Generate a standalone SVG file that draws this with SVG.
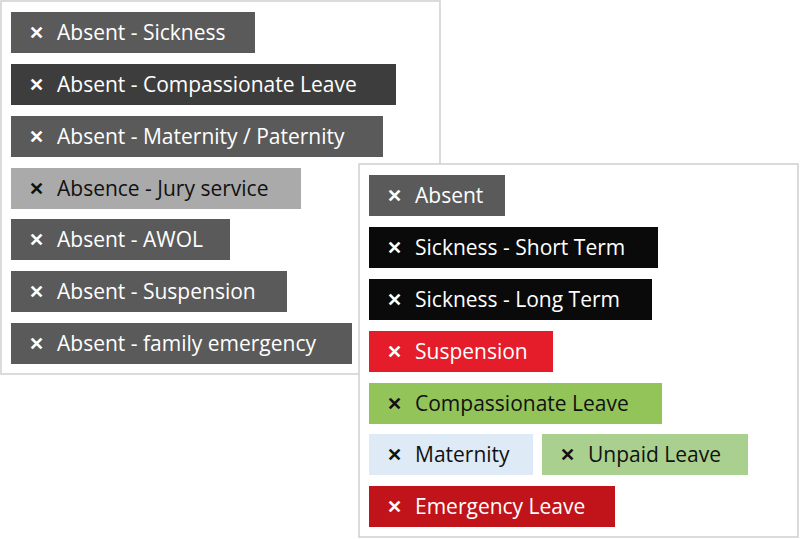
<svg xmlns="http://www.w3.org/2000/svg" width="800" height="539" viewBox="0 0 800 539">
<style>
.panel{fill:#fff;stroke:#cfcfcf;stroke-width:1.5}
text{font-family:"Open Sans","Noto Sans",sans-serif;font-size:21px}
.x{font-weight:bold;font-size:18px}
.w{fill:#fff}.k{fill:#111}
</style>
<g id="left-panel">
<rect class="panel" x="1" y="1" width="439" height="373"/>
<g id="t1"><rect x="11" y="12" width="244" height="41" fill="#5a5a5a"/><text class="w x" x="29" y="39">✕</text><text class="w" x="57" y="40">Absent - Sickness</text></g>
<g id="t2"><rect x="11" y="64" width="385" height="41" fill="#3d3d3d"/><text class="w x" x="29" y="91">✕</text><text class="w" x="57" y="92">Absent - Compassionate Leave</text></g>
<g id="t3"><rect x="11" y="116" width="372" height="41" fill="#5a5a5a"/><text class="w x" x="29" y="143">✕</text><text class="w" x="57" y="144">Absent - Maternity / Paternity</text></g>
<g id="t4"><rect x="11" y="168" width="290" height="41" fill="#aaaaaa"/><text class="k x" x="29" y="195">✕</text><text class="k" x="57" y="196">Absence - Jury service</text></g>
<g id="t5"><rect x="11" y="219" width="219" height="41" fill="#5a5a5a"/><text class="w x" x="29" y="246">✕</text><text class="w" x="57" y="247">Absent - AWOL</text></g>
<g id="t6"><rect x="11" y="271" width="276" height="41" fill="#5a5a5a"/><text class="w x" x="29" y="298">✕</text><text class="w" x="57" y="299">Absent - Suspension</text></g>
<g id="t7"><rect x="11" y="323" width="341" height="41" fill="#5a5a5a"/><text class="w x" x="29" y="350">✕</text><text class="w" x="57" y="351">Absent - family emergency</text></g>
</g>
<g id="right-panel">
<rect class="panel" x="359" y="164" width="439" height="373"/>
<g id="r1"><rect x="369" y="175" width="136" height="41" fill="#5a5a5a"/><text class="w x" x="387" y="202">✕</text><text class="w" x="415" y="203">Absent</text></g>
<g id="r2"><rect x="369" y="227" width="289" height="41" fill="#0a0a0a"/><text class="w x" x="387" y="254">✕</text><text class="w" x="415" y="255">Sickness - Short Term</text></g>
<g id="r3"><rect x="369" y="279" width="283" height="41" fill="#0a0a0a"/><text class="w x" x="387" y="306">✕</text><text class="w" x="415" y="307">Sickness - Long Term</text></g>
<g id="r4"><rect x="369" y="331" width="184" height="41" fill="#e51c2a"/><text class="w x" x="387" y="358">✕</text><text class="w" x="415" y="359">Suspension</text></g>
<g id="r5"><rect x="369" y="383" width="293" height="41" fill="#93c45a"/><text class="k x" x="387" y="410">✕</text><text class="k" x="415" y="411">Compassionate Leave</text></g>
<g id="r6"><rect x="369" y="434" width="164" height="41" fill="#deeaf5"/><text class="k x" x="387" y="461">✕</text><text class="k" x="415" y="462">Maternity</text></g>
<g id="r7"><rect x="542" y="434" width="206" height="41" fill="#a9d08e"/><text class="k x" x="560" y="461">✕</text><text class="k" x="588" y="462">Unpaid Leave</text></g>
<g id="r8"><rect x="369" y="486" width="246" height="41" fill="#c0141a"/><text class="w x" x="387" y="513">✕</text><text class="w" x="415" y="514">Emergency Leave</text></g>
</g>
<g id="connectors"/>
</svg>
